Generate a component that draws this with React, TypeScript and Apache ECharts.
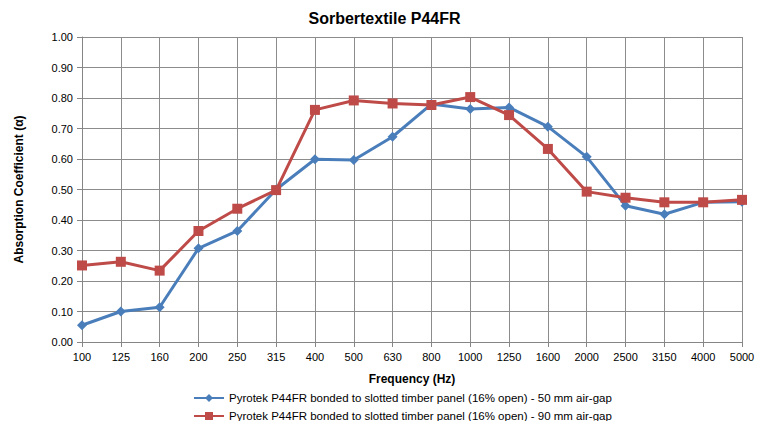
import React, { useEffect, useRef } from "react";
import * as echarts from "echarts";

const frequencies = ["100", "125", "160", "200", "250", "315", "400", "500", "630", "800", "1000", "1250", "1600", "2000", "2500", "3150", "4000", "5000"];
const gap50 = [0.055, 0.10, 0.114, 0.307, 0.364, 0.50, 0.599, 0.597, 0.673, 0.78, 0.764, 0.769, 0.706, 0.607, 0.447, 0.419, 0.458, 0.46];
const gap90 = [0.251, 0.263, 0.234, 0.364, 0.437, 0.498, 0.761, 0.792, 0.782, 0.777, 0.803, 0.744, 0.633, 0.493, 0.473, 0.458, 0.458, 0.466];
const seriesNames = [
  "Pyrotek P44FR bonded to slotted timber panel (16% open) - 50 mm air-gap",
  "Pyrotek P44FR bonded to slotted timber panel (16% open) - 90 mm air-gap",
];

const FONT = "Liberation Sans";

const legendBase = {
  orient: "horizontal",
  left: 193,
  itemWidth: 30,
  itemHeight: 10,
  padding: 0,
  textStyle: { fontFamily: FONT, fontSize: 11.5, color: "#000" },
};

export default function App() {
  const ref = useRef<HTMLDivElement>(null);
  useEffect(() => {
    if (!ref.current) return;
    const chart = echarts.init(ref.current, undefined, { renderer: "svg" });
    chart.setOption({
      animation: false,
      backgroundColor: "#ffffff",
      textStyle: { fontFamily: FONT },
      title: {
        text: "Sorbertextile P44FR",
        left: "center",
        top: 5,
        textStyle: { fontFamily: FONT, fontSize: 16, fontWeight: "bold", color: "#000" },
      },
      grid: { left: 82, right: 27, top: 37, bottom: 87, containLabel: false },
      legend: [
        { ...legendBase, top: 392, data: [seriesNames[0]] },
        { ...legendBase, top: 410, data: [seriesNames[1]] },
      ],
      xAxis: {
        type: "category",
        data: frequencies,
        boundaryGap: false,
        name: "Frequency (Hz)",
        nameLocation: "middle",
        nameGap: 31,
        nameTextStyle: { fontFamily: FONT, fontSize: 12, fontWeight: "bold", color: "#000" },
        axisLine: { show: true, lineStyle: { color: "#868686", width: 1 } },
        axisTick: { show: true, alignWithLabel: true, length: 5, lineStyle: { color: "#868686" } },
        axisLabel: { fontFamily: FONT, fontSize: 11, color: "#000", margin: 9, interval: 0 },
        splitLine: { show: true, lineStyle: { color: "#8c8c8c", width: 1 } },
      },
      yAxis: {
        type: "value",
        min: 0,
        max: 1,
        interval: 0.1,
        name: "Absorption Coefficient (α)",
        nameLocation: "middle",
        nameGap: 57,
        nameTextStyle: { fontFamily: FONT, fontSize: 12, fontWeight: "bold", color: "#000" },
        axisLine: { show: true, lineStyle: { color: "#868686", width: 1 } },
        axisTick: { show: true, length: 5, lineStyle: { color: "#868686" } },
        axisLabel: { fontFamily: FONT, fontSize: 11, color: "#000", margin: 9, formatter: (v: number) => v.toFixed(2) },
        splitLine: { show: true, lineStyle: { color: "#8c8c8c", width: 1 } },
      },
      series: [
        {
          name: seriesNames[0],
          type: "line",
          data: gap50,
          symbol: "diamond",
          symbolSize: 10,
          lineStyle: { color: "#4a7ebb", width: 3 },
          itemStyle: { color: "#4a7ebb" },
        },
        {
          name: seriesNames[1],
          type: "line",
          data: gap90,
          symbol: "rect",
          symbolSize: 10,
          lineStyle: { color: "#be4b48", width: 3 },
          itemStyle: { color: "#be4b48" },
        },
      ],
    });
    return () => chart.dispose();
  }, []);
  return <div ref={ref} style={{ width: 769, height: 429, margin: -8 }} />;
}
